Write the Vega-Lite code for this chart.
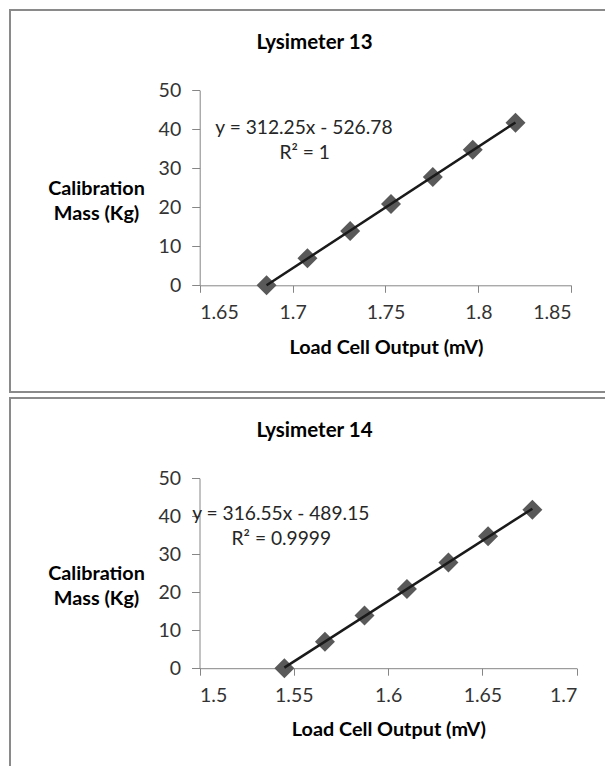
{
  "$schema": "https://vega.github.io/schema/vega-lite/v6.json",
  "padding": {"left": 9, "top": 9, "right": 0, "bottom": 0},
  "autosize": {"type": "pad"},
  "background": "white",
  "spacing": 4,
  "config": {
    "font": "Lato",
    "view": {"stroke": "#8a8a8a", "strokeWidth": 2},
    "axis": {
      "grid": false,
      "domainColor": "#868686",
      "tickColor": "#868686",
      "labelFont": "Lato",
      "labelFontSize": 19.5,
      "labelColor": "#333333",
      "titleFont": "Lato",
      "titleFontSize": 19.8,
      "titleFontWeight": "bold",
      "titleColor": "#000000"
    },
    "title": {"font": "Lato", "fontSize": 20.5, "fontWeight": "bold", "color": "#000000"}
  },
  "vconcat": [
    {
      "width": 609,
      "height": 382,
      "title": {"text": "Lysimeter 13", "offset": -53, "baseline": "middle"},
      "data": {"values": [
        {"output": 1.6860, "mass": 0},
        {"output": 1.7080, "mass": 6.95},
        {"output": 1.7310, "mass": 13.9},
        {"output": 1.7530, "mass": 20.85},
        {"output": 1.7755, "mass": 27.8},
        {"output": 1.7970, "mass": 34.75},
        {"output": 1.8200, "mass": 41.7}
      ]},
      "layer": [
        {
          "mark": {"type": "point", "shape": "diamond", "filled": true, "size": 400, "color": "#595959", "opacity": 1},
          "encoding": {
            "x": {"field": "output", "type": "quantitative",
              "scale": {"domain": [1.65, 1.85], "range": [189.7, 561.2], "zero": false, "nice": false},
              "axis": {"orient": "bottom", "offset": -106.7, "values": [1.65, 1.7, 1.75, 1.8, 1.85], "format": "~g",
                "tickSize": 7, "labelPadding": 11, "title": "Load Cell Output (mV)",
                "titleX": 376, "titleY": 62, "titleBaseline": "middle", "titleAlign": "center", "titleAnchor": null}},
            "y": {"field": "mass", "type": "quantitative",
              "scale": {"domain": [0, 50], "range": [275.3, 80.3], "zero": false, "nice": false},
              "axis": {"orient": "left", "offset": -189.7, "values": [0, 10, 20, 30, 40, 50],
                "tickSize": 8, "labelPadding": 11, "title": ["Calibration", "Mass (Kg)"],
                "titleAngle": 0, "titleX": -103.7, "titleY": 178.5, "titleBaseline": "middle", "titleAlign": "center", "titleLineHeight": 25}}
          }
        },
        {
          "transform": [{"regression": "mass", "on": "output"}],
          "mark": {"type": "line", "color": "#1a1a1a", "strokeWidth": 2.5},
          "encoding": {
            "x": {"field": "output", "type": "quantitative"},
            "y": {"field": "mass", "type": "quantitative"}
          }
        },
        {
          "data": {"values": [{"eq": "y = 312.25x - 526.78", "r2": "R² = 1"}]},
          "mark": {"type": "text", "fontSize": 19.2, "color": "#262626", "align": "center", "baseline": "middle"},
          "encoding": {
            "x": {"datum": 1.7061, "type": "quantitative"},
            "y": {"datum": 40.4, "type": "quantitative"},
            "text": {"field": "eq"}
          }
        },
        {
          "data": {"values": [{"eq": "y = 312.25x - 526.78", "r2": "R² = 1"}]},
          "mark": {"type": "text", "fontSize": 19.2, "color": "#262626", "align": "center", "baseline": "middle"},
          "encoding": {
            "x": {"datum": 1.7065, "type": "quantitative"},
            "y": {"datum": 34.0, "type": "quantitative"},
            "text": {"field": "r2"}
          }
        }
      ]
    },
    {
      "width": 609,
      "height": 380,
      "title": {"text": "Lysimeter 14", "offset": -53, "baseline": "middle"},
      "data": {"values": [
        {"output": 1.5450, "mass": 0},
        {"output": 1.5665, "mass": 6.95},
        {"output": 1.5875, "mass": 13.9},
        {"output": 1.6100, "mass": 20.85},
        {"output": 1.6320, "mass": 27.8},
        {"output": 1.6530, "mass": 34.75},
        {"output": 1.6765, "mass": 41.7}
      ]},
      "layer": [
        {
          "mark": {"type": "point", "shape": "diamond", "filled": true, "size": 400, "color": "#595959", "opacity": 1},
          "encoding": {
            "x": {"field": "output", "type": "quantitative",
              "scale": {"domain": [1.5, 1.7], "range": [189.5, 566.7], "zero": false, "nice": false},
              "axis": {"orient": "bottom", "offset": -109.8, "values": [1.5, 1.55, 1.6, 1.65, 1.7], "format": "~g",
                "tickSize": 7, "labelPadding": 11, "title": "Load Cell Output (mV)",
                "titleX": 378.4, "titleY": 61, "titleBaseline": "middle", "titleAlign": "center", "titleAnchor": null}},
            "y": {"field": "mass", "type": "quantitative",
              "scale": {"domain": [0, 50], "range": [270.2, 80.2], "zero": false, "nice": false},
              "axis": {"orient": "left", "offset": -189.5, "values": [0, 10, 20, 30, 40, 50],
                "tickSize": 8, "labelPadding": 11, "title": ["Calibration", "Mass (Kg)"],
                "titleAngle": 0, "titleX": -103.5, "titleY": 175.5, "titleBaseline": "middle", "titleAlign": "center", "titleLineHeight": 25}}
          }
        },
        {
          "transform": [{"regression": "mass", "on": "output"}],
          "mark": {"type": "line", "color": "#1a1a1a", "strokeWidth": 2.5},
          "encoding": {
            "x": {"field": "output", "type": "quantitative"},
            "y": {"field": "mass", "type": "quantitative"}
          }
        },
        {
          "data": {"values": [{"eq": "y = 316.55x - 489.15", "r2": "R² = 0.9999"}]},
          "mark": {"type": "text", "fontSize": 19.2, "color": "#262626", "align": "center", "baseline": "middle"},
          "encoding": {
            "x": {"datum": 1.5431, "type": "quantitative"},
            "y": {"datum": 40.7, "type": "quantitative"},
            "text": {"field": "eq"}
          }
        },
        {
          "data": {"values": [{"eq": "y = 316.55x - 489.15", "r2": "R² = 0.9999"}]},
          "mark": {"type": "text", "fontSize": 19.2, "color": "#262626", "align": "center", "baseline": "middle"},
          "encoding": {
            "x": {"datum": 1.5434, "type": "quantitative"},
            "y": {"datum": 33.9, "type": "quantitative"},
            "text": {"field": "r2"}
          }
        }
      ]
    }
  ]
}
